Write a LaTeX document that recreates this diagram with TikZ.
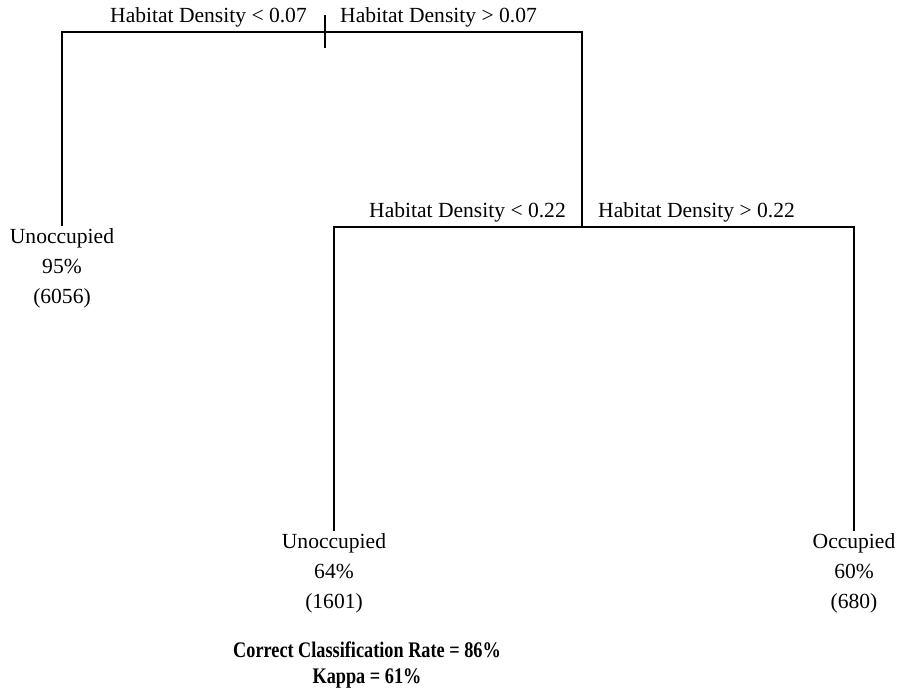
\documentclass[tikz,border=0pt]{standalone}
\usepackage{fontspec}
\setmainfont{Liberation Serif}
\begin{document}
\begin{tikzpicture}[x=0.03cm,y=-0.03cm,
  leaf/.style={align=center,font=\fontsize{18.4}{25.6}\selectfont,inner sep=2pt,anchor=north},
  cond/.style={font=\fontsize{18.4}{22}\selectfont,inner sep=0pt},
  score/.style={font=\bfseries\fontsize{19}{22}\selectfont,inner sep=0pt,anchor=base},
  branch/.style={line width=1.1pt}]
\useasboundingbox (0,0) rectangle (900,689);

% split points
\coordinate (root)  at (325,32);
\coordinate (rootL) at (62,32);
\coordinate (rootR) at (582,32);
\coordinate (tickT) at (325,15);
\coordinate (tickB) at (325,48);
\coordinate (sub)   at (582,227);
\coordinate (subL)  at (334,227);
\coordinate (subR)  at (854,227);

% leaves
\node[leaf] (leafA) at (62,226)  {Unoccupied\\95\%\\(6056)};
\node[leaf] (leafB) at (334,531) {Unoccupied\\64\%\\(1601)};
\node[leaf] (leafC) at (854,531) {Occupied\\60\%\\(680)};

% split conditions
\node[cond,anchor=base east] (c1) at (307,22)  {Habitat Density < 0.07};
\node[cond,anchor=base west] (c2) at (340,22)  {Habitat Density > 0.07};
\node[cond,anchor=base east] (c3) at (566,217) {Habitat Density < 0.22};
\node[cond,anchor=base west] (c4) at (598,217) {Habitat Density > 0.22};

% tree
\draw[branch] (leafA.north) -- (rootL) -- (rootR) -- (sub);
\draw[branch] (tickT) -- (tickB);
\draw[branch] (leafB.north) -- (subL) -- (subR) -- (leafC.north);

% accuracy
\node[score] (rate)  at (367,657) {\scalebox{0.82}[1]{Correct Classification Rate = 86\%}};
\node[score] (kappa) at (367,683) {\scalebox{0.82}[1]{Kappa = 61\%}};

\end{tikzpicture}
\end{document}
